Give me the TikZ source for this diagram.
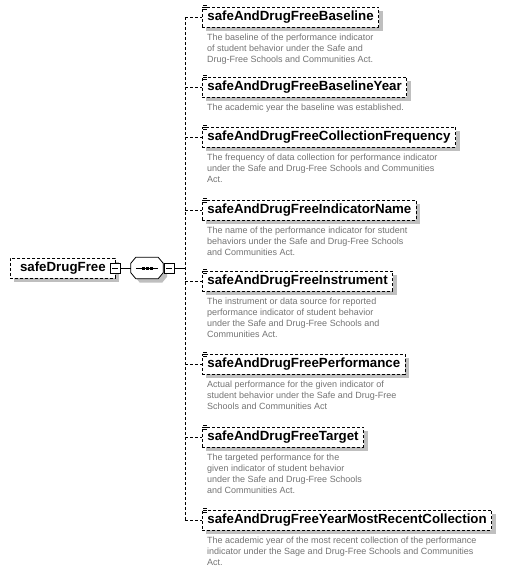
\documentclass[tikz,border=0pt]{standalone}
\usepackage{fontspec}
\setmainfont{Liberation Sans}
\usetikzlibrary{positioning, shadows}

\begin{document}
\begin{tikzpicture}[
    x=1pt, y=-1pt,
    shade/.style={drop shadow={shadow xshift=4pt, shadow yshift=-4pt, fill=black!25, opacity=1}},
    elem/.style={rectangle, draw=black, line width=0.8pt, dash pattern=on 3pt off 2pt, fill=white, shade,
        minimum height=20pt, inner xsep=5pt, inner ysep=0pt, anchor=west, font=\fontsize{13.3}{15}\selectfont\bfseries},
    desc/.style={align=left, text=black!55, inner sep=0pt, font=\fontsize{9}{11}\selectfont},
    conn/.style={line width=0.8pt, dash pattern=on 3pt off 2pt},
    link/.style={line width=0.8pt},
    minus/.style={rectangle, draw=black, fill=white, line width=0.8pt, minimum size=10pt, inner sep=0pt,
        path picture={\draw[line width=0.8pt] ([xshift=2pt]path picture bounding box.west) -- ([xshift=-2pt]path picture bounding box.east);}},
    seqbox/.style={rectangle, minimum width=32pt, minimum height=21pt, inner sep=0pt},
    octo/.style={draw=black, fill=white, line width=0.8pt, shade}
]
    \useasboundingbox (0,0) rectangle (505,574);

    % --- Root element and sequence compositor
    \node[elem, minimum width=105pt] (root) at (10,268) {safeDrugFree};
    \node[seqbox] (sq) at (147,268) {};
    \path[octo] ([xshift=5pt]sq.north west) -- ([xshift=-5pt]sq.north east)
        -- ([yshift=-6pt]sq.north east) -- ([yshift=6pt]sq.south east)
        -- ([xshift=-5pt]sq.south east) -- ([xshift=5pt]sq.south west)
        -- ([yshift=6pt]sq.south west) -- ([yshift=-6pt]sq.north west) -- cycle;
    \draw[link] ([xshift=5pt]sq.west) -- ([xshift=-5pt]sq.east);
    \foreach \dx in {-4,0,4}
        \fill ([xshift=\dx pt]sq.center) +(-1.5pt,-1.5pt) rectangle +(1.5pt,1.5pt);
    \node[minus] (rootminus) at (115,268) {};
    \node[minus] (sqminus) at (169,268) {};
    \coordinate (spine) at (185,268);

    \draw[link] (rootminus.east) -- (sq.west);
    \draw[link] (sqminus.east) -- (spine);

    % --- Child elements
    \node[elem] (b1) at (202,17)  {safeAndDrugFreeBaseline};
    \node[desc, below right=6pt and 5pt of b1.south west] (d1)
        {The baseline of the performance indicator\\of student behavior under the Safe and\\Drug-Free Schools and Communities Act.};

    \node[elem] (b2) at (202,87)  {safeAndDrugFreeBaselineYear};
    \node[desc, below right=6pt and 5pt of b2.south west] (d2)
        {The academic year the baseline was established.};

    \node[elem] (b3) at (202,137) {safeAndDrugFreeCollectionFrequency};
    \node[desc, below right=6pt and 5pt of b3.south west] (d3)
        {The frequency of data collection for performance indicator\\under the Safe and Drug-Free Schools and Communities\\Act.};

    \node[elem] (b4) at (202,210) {safeAndDrugFreeIndicatorName};
    \node[desc, below right=6pt and 5pt of b4.south west] (d4)
        {The name of the performance indicator for student\\behaviors under the Safe and Drug-Free Schools\\and Communities Act.};

    \node[elem] (b5) at (202,281) {safeAndDrugFreeInstrument};
    \node[desc, below right=6pt and 5pt of b5.south west] (d5)
        {The instrument or data source for reported\\performance indicator of student behavior\\under the Safe and Drug-Free Schools and\\Communities Act.};

    \node[elem] (b6) at (202,364) {safeAndDrugFreePerformance};
    \node[desc, below right=6pt and 5pt of b6.south west] (d6)
        {Actual performance for the given indicator of\\student behavior under the Safe and Drug-Free\\Schools and Communities Act};

    \node[elem] (b7) at (202,437) {safeAndDrugFreeTarget};
    \node[desc, below right=6pt and 5pt of b7.south west] (d7)
        {The targeted performance for the\\given indicator of student behavior\\under the Safe and Drug-Free Schools\\and Communities Act.};

    \node[elem] (b8) at (202,520) {safeAndDrugFreeYearMostRecentCollection};
    \node[desc, below right=6pt and 5pt of b8.south west] (d8)
        {The academic year of the most recent collection of the performance\\indicator under the Sage and Drug-Free Schools and Communities\\Act.};

    % documentation marks
    \foreach \b in {b1,b2,b3,b4,b5,b6,b7,b8}
        \foreach \k in {0,1,2}
            \draw[line width=0.5pt] ([xshift=1pt, yshift=1.5pt-2*\k pt]\b.north west) -- +(4pt,0);

    % --- Connectors
    \draw[conn] (b1.west -| spine) -- (b8.west -| spine);
    \draw[conn] (b1.west -| spine) -- (b1.west);
    \draw[conn] (b2.west -| spine) -- (b2.west);
    \draw[conn] (b3.west -| spine) -- (b3.west);
    \draw[conn] (b4.west -| spine) -- (b4.west);
    \draw[conn] (b5.west -| spine) -- (b5.west);
    \draw[conn] (b6.west -| spine) -- (b6.west);
    \draw[conn] (b7.west -| spine) -- (b7.west);
    \draw[conn] (b8.west -| spine) -- (b8.west);

\end{tikzpicture}
\end{document}
